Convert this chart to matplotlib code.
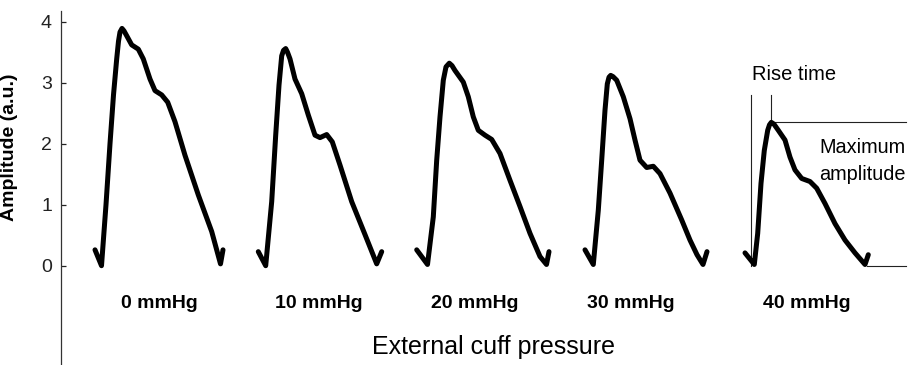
import matplotlib
matplotlib.use("Agg")
import matplotlib.pyplot as plt

plt.rcParams['font.family'] = ['Liberation Sans', 'DejaVu Sans']

# ---- data (time in arbitrary units, amplitude in a.u.) ----
categories = ["0 mmHg", "10 mmHg", "20 mmHg", "30 mmHg", "40 mmHg"]
category_t = [159, 319, 475, 631, 807]

t_0 = [95, 101.5, 106, 110, 113.5, 116.7, 118.5, 120, 122, 124, 126.7, 131.7, 138.3,
       143.3, 150, 155, 161.7, 167.7, 175, 185, 198.3, 211.7, 220.5, 223]
a_0 = [0.26, 0.0, 1.0, 2.0, 2.8, 3.39, 3.68, 3.83, 3.89, 3.85, 3.77, 3.62, 3.55,
       3.39, 3.06, 2.87, 2.80, 2.68, 2.36, 1.81, 1.16, 0.56, 0.03, 0.26]

t_10 = [258.3, 265.7, 271.7, 275.7, 279, 281.7, 283.5, 285.7, 287.5, 290, 295, 301.7,
        308.3, 315, 320, 326.7, 332.3, 340, 351.7, 365, 376.7, 381.7]
a_10 = [0.23, 0.0, 1.05, 2.14, 2.96, 3.44, 3.53, 3.56, 3.50, 3.39, 3.06, 2.82,
        2.47, 2.14, 2.10, 2.15, 2.03, 1.65, 1.05, 0.51, 0.03, 0.23]

t_20 = [416.7, 427.5, 433.3, 436.7, 440, 443.3, 446, 449.3, 452, 455, 463.3, 468.3,
        473.3, 478.3, 485, 491.7, 500, 510, 520, 530, 540, 546.5, 549]
a_20 = [0.26, 0.02, 0.8, 1.73, 2.44, 3.04, 3.26, 3.32, 3.28, 3.20, 3.01, 2.77,
        2.44, 2.22, 2.14, 2.07, 1.84, 1.40, 0.97, 0.53, 0.15, 0.02, 0.23]

t_30 = [585, 593.3, 598.3, 601.7, 605, 607.3, 609, 610.7, 613, 616.7, 623.3, 630,
        635, 640, 646.7, 653.3, 660, 670, 681.7, 690, 697, 703, 707]
a_30 = [0.26, 0.02, 0.91, 1.73, 2.55, 2.98, 3.09, 3.12, 3.10, 3.04, 2.77, 2.41,
        2.06, 1.73, 1.61, 1.63, 1.51, 1.19, 0.75, 0.42, 0.18, 0.02, 0.23]

t_40 = [745, 754.3, 757.7, 761, 764.3, 767.7, 769.5, 771.3, 774, 778.3, 785, 790,
        795, 801.7, 810, 816.7, 825, 835, 845, 855, 865, 868.3]
a_40 = [0.21, 0.02, 0.53, 1.35, 1.89, 2.22, 2.31, 2.35, 2.32, 2.22, 2.06, 1.78,
        1.57, 1.43, 1.38, 1.27, 1.02, 0.69, 0.42, 0.21, 0.02, 0.18]

yticks = [0, 1, 2, 3, 4]

# annotation values for the 40 mmHg beat
onset_t = 750.5
peak_t = 771.3
peak_a = 2.35
marker_top = 2.80
guide_end_t = 906
baseline_start_t = 867

# ---- figure ----
fig = plt.figure(figsize=(9.08, 3.65), dpi=100)
ax = fig.add_axes([0, 0, 1, 1])
ax.set_xlim(0, 908)
ax.set_ylim(-1.628, 4.356)

for t, a in [(t_0, a_0), (t_10, a_10), (t_20, a_20), (t_30, a_30), (t_40, a_40)]:
    ax.plot(t, a, color='black', lw=3.6, solid_joinstyle='round',
            solid_capstyle='round', zorder=3)

# annotation guide lines
gl = dict(color='#222222', lw=0.8, zorder=2)
ax.plot([onset_t, onset_t], [0, marker_top], **gl)
ax.plot([peak_t, peak_t], [peak_a, marker_top], **gl)
ax.plot([peak_t, guide_end_t], [peak_a, peak_a], **gl)
ax.plot([baseline_start_t, guide_end_t], [0, 0], **gl)

ax.text(794, 3.05, "Rise time", ha='center', va='baseline', fontsize=14.5)
ax.text(819, 1.84, "Maximum", ha='left', va='baseline', fontsize=14.3)
ax.text(819, 1.40, "amplitude", ha='left', va='baseline', fontsize=14.3)

# category labels
for x, lab in zip(category_t, categories):
    ax.text(x, -0.70, lab, ha='center', va='baseline', fontsize=14,
            fontweight='bold')
ax.text(493, -1.45, "External cuff pressure", ha='center', va='baseline',
        fontsize=18)

# y axis
for s in ['top', 'right', 'bottom']:
    ax.spines[s].set_visible(False)
ax.spines['left'].set_position(('data', 61))
ax.spines['left'].set_bounds(-1.628, 4.18)
ax.spines['left'].set_linewidth(0.9)
ax.spines['left'].set_color('#333333')
ax.set_xticks([])
ax.set_yticks(yticks)
ax.set_yticklabels([str(v) for v in yticks])
ax.tick_params(axis='y', direction='in', length=3.5, width=0.9, pad=6.5,
               labelsize=14, colors='#222222')
ax.set_ylabel("Amplitude (a.u.)", fontsize=14, fontweight='bold')
ax.yaxis.set_label_coords(18 / 908, 1 - 147 / 365)

fig.savefig("out.png", dpi=100)
